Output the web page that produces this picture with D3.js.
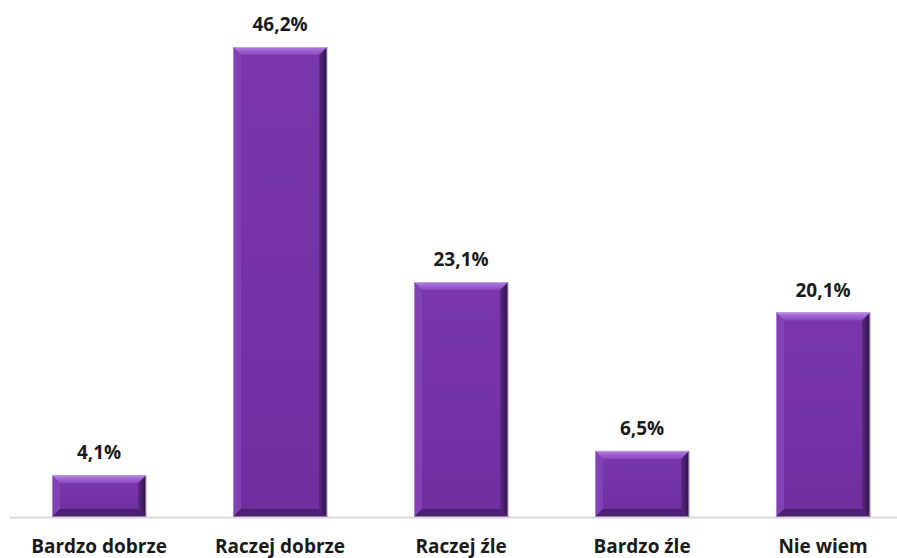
<!DOCTYPE html>
<html><head><meta charset="utf-8">
<script src="https://cdn.jsdelivr.net/npm/d3@7"></script>
<style>html,body{margin:0;padding:0;background:#fff;}svg{display:block;}</style>
</head><body>
<script>
const categories = ["Bardzo dobrze", "Raczej dobrze", "Raczej źle", "Bardzo źle", "Nie wiem"];
const values = [4.1, 46.2, 23.1, 6.5, 20.1];
const valueLabels = ["4,1%", "46,2%", "23,1%", "6,5%", "20,1%"];

const W = 897, H = 558;
const svg = d3.select("body").append("svg").attr("width", W).attr("height", H);
const font = "'Open Sans', sans-serif";

const x = d3.scaleBand().domain(categories).range([8.56, 913.56]).paddingInner(0.48).paddingOuter(0.24);
const y = d3.scaleLinear().domain([0, 50]).range([517, 8.35]);

const defs = svg.append("defs");
const gt = defs.append("linearGradient").attr("id","gTop").attr("x1",0).attr("y1",0).attr("x2",0).attr("y2",1);
gt.append("stop").attr("offset","0%").attr("stop-color","#b27ee0");
gt.append("stop").attr("offset","100%").attr("stop-color","#8a45c0");
const gm = defs.append("linearGradient").attr("id","gMain").attr("x1",0).attr("y1",0).attr("x2",0).attr("y2",1);
gm.append("stop").attr("offset","0%").attr("stop-color","#7a37ad");
gm.append("stop").attr("offset","100%").attr("stop-color","#6f2fa0");
const gr = defs.append("linearGradient").attr("id","gRight").attr("x1",0).attr("y1",0).attr("x2",1).attr("y2",0);
gr.append("stop").attr("offset","0%").attr("stop-color","#5a2882");
gr.append("stop").attr("offset","100%").attr("stop-color","#2e1245");

// axis line
svg.append("line").attr("x1",10).attr("x2",897).attr("y1",517.5).attr("y2",517.5)
  .attr("stroke","#d9d9d9").attr("stroke-width",2);

const bw = x.bandwidth();
const bev = 8;
const g = svg.append("g");
categories.forEach((c,i)=>{
  const x0 = x(c), x1 = x0 + bw, y0 = y(values[i]), y1 = y(0);
  const b = Math.min(bev, (y1-y0)/2 - 1);
  const bg = g.append("g");
  bg.append("rect").attr("x",x0).attr("y",y0).attr("width",bw).attr("height",y1-y0).attr("fill","url(#gMain)");
  bg.append("polygon").attr("points",[[x0,y0],[x1,y0],[x1-b,y0+b],[x0+b,y0+b]].join(" ")).attr("fill","url(#gTop)");
  bg.append("polygon").attr("points",[[x0,y0],[x0+b,y0+b],[x0+b,y1-b],[x0,y1]].join(" ")).attr("fill","#8240b5");
  bg.append("polygon").attr("points",[[x1,y0],[x1,y1],[x1-b,y1-b],[x1-b,y0+b]].join(" ")).attr("fill","url(#gRight)");
  bg.append("polygon").attr("points",[[x0,y1],[x0+b,y1-b],[x1-b,y1-b],[x1,y1]].join(" ")).attr("fill","#4c2070");
  bg.append("rect").attr("x",x0+0.5).attr("y",y0+0.5).attr("width",bw-1).attr("height",y1-y0-1)
    .attr("fill","none").attr("stroke","#c9b3dc").attr("stroke-width",1).attr("stroke-opacity",0.6);
  svg.append("text").attr("x",x0+bw/2).attr("y",y0-16).attr("text-anchor","middle")
    .attr("font-family",font).attr("font-weight","bold").attr("font-size",19).attr("fill","#1a1a1a")
    .text(valueLabels[i]);
  svg.append("text").attr("x",x0+bw/2).attr("y",552.5).attr("text-anchor","middle")
    .attr("font-family",font).attr("font-weight","bold").attr("font-size",19).attr("fill","#1a1a1a")
    .text(c);
});
</script>
</body></html>
